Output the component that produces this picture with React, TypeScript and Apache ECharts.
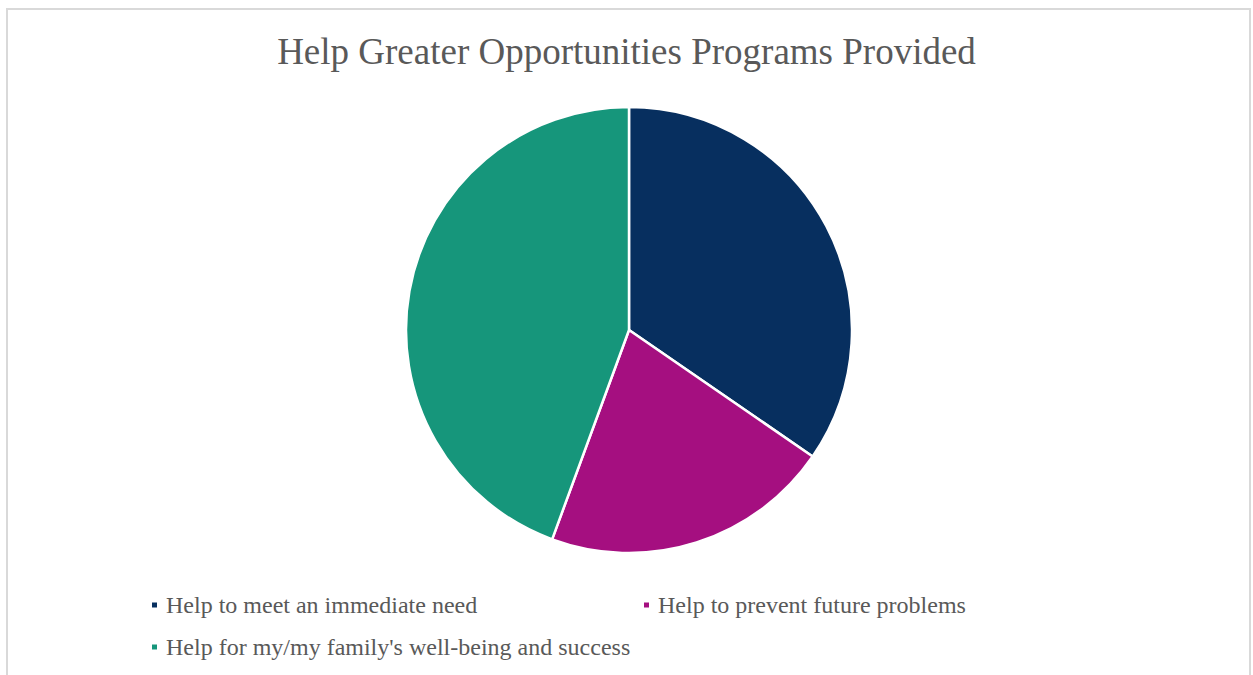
import React, { useEffect, useRef } from "react";
import * as echarts from "echarts";

const TITLE = "Help Greater Opportunities Programs Provided";
const categories = [
  "Help to meet an immediate need",
  "Help to prevent future problems",
  "Help for my/my family's well-being and success",
];
const values = [34.6, 21.0, 44.4];
const colors = ["#072F5F", "#A50F80", "#16967B"];

const FONT = "'Liberation Serif', 'Times New Roman', serif";

export default function App() {
  const ref = useRef<HTMLDivElement>(null);
  useEffect(() => {
    if (!ref.current) return;
    const chart = echarts.init(ref.current, undefined, { renderer: "svg" });
    const legendPos = [
      { left: 150, top: 593 },
      { left: 642, top: 593 },
      { left: 150, top: 635 },
    ];
    chart.setOption({
      animation: false,
      backgroundColor: "#ffffff",
      color: colors,
      title: {
        text: TITLE,
        left: "center",
        top: 33,
        padding: 0,
        textStyle: {
          fontFamily: FONT,
          fontSize: 37,
          fontWeight: "normal",
          color: "#595959",
        },
      },
      legend: categories.map((c, i) => ({
        data: [c],
        left: legendPos[i].left,
        top: legendPos[i].top,
        padding: 0,
        icon: "rect",
        itemWidth: 7,
        itemHeight: 7,
        selectedMode: false,
        textStyle: {
          fontFamily: FONT,
          fontSize: 24,
          color: "#595959",
          padding: [0, 0, 0, 3],
        },
      })),
      graphic: [
        {
          type: "rect",
          silent: true,
          shape: { x: 7, y: 9, width: 1243, height: 720 },
          style: { fill: "none", stroke: "#d9d9d9", lineWidth: 2 },
        },
      ],
      series: [
        {
          type: "pie",
          center: [629, 330],
          radius: 223,
          startAngle: 90,
          clockwise: true,
          label: { show: false },
          labelLine: { show: false },
          emphasis: { disabled: true },
          itemStyle: { borderColor: "#ffffff", borderWidth: 2.5 },
          data: categories.map((c, i) => ({ name: c, value: values[i] })),
        },
      ],
    });
    return () => chart.dispose();
  }, []);
  return (
    <div
      ref={ref}
      style={{ position: "fixed", left: 0, top: 0, width: 1253, height: 675 }}
    />
  );
}
